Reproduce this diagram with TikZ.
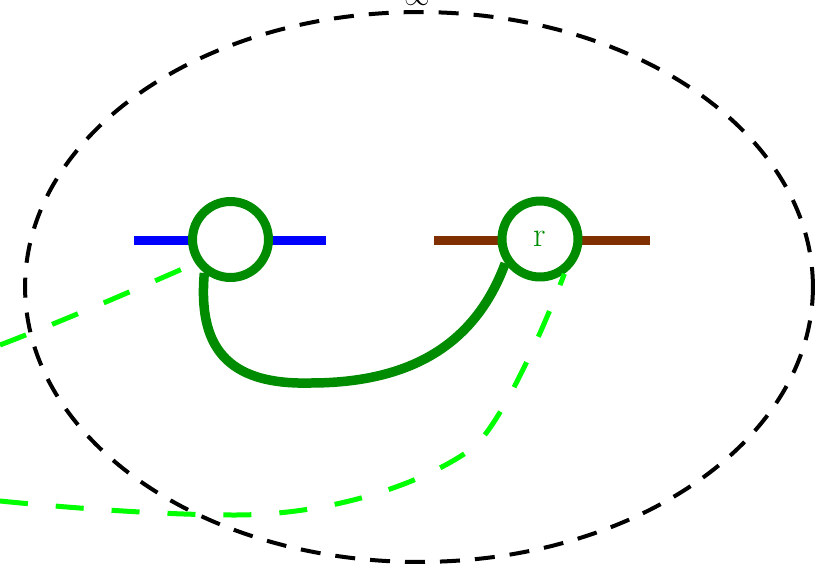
\documentclass[tikz,border=0pt]{standalone}
\definecolor{knotgreen}{RGB}{0,140,0}
\definecolor{ghostgreen}{RGB}{0,255,0}
\definecolor{wirebrown}{RGB}{128,48,0}
\begin{document}
\begin{tikzpicture}[x=0.02cm, y=-0.02cm, line join=round,
  vertex/.style={circle, draw=knotgreen, line width=0.18cm, fill=white,
    minimum size=1.52cm, inner sep=0pt, text=knotgreen,
    font=\fontsize{20}{24}\selectfont},
  wire/.style={line width=0.18cm},
  ghost/.style={draw=ghostgreen, line width=0.1cm, dash pattern=on 0.56cm off 0.56cm},
  boundary/.style={line width=0.08cm, dash pattern=on 0.4cm off 0.3cm}]
  \useasboundingbox (0,0) rectangle (816,569);

  \draw[boundary] (419,287) ellipse [x radius=7.88cm, y radius=5.5cm];
  \node[anchor=base, font=\fontsize{14}{16}\selectfont] (inf) at (417,5) {$\infty$};

  \coordinate (bl) at (134,240);
  \coordinate (br) at (326,240);
  \coordinate (ol) at (434,240);
  \coordinate (or) at (650,240);

  \draw[wire, blue] (bl) -- (br);
  \draw[wire, wirebrown] (ol) -- (or);

  \node[vertex] (u) at (230.5,239.5) {};
  \node[vertex] (v) at (540,239) {r};

  \draw[knotgreen, line width=0.19cm] (u.232) .. controls (198,345) and (225,385) .. (310,383)
    .. controls (410,383) and (475,345) .. (v.215);

  \coordinate (w1) at (0,345);
  \coordinate (w2) at (0,501);

  \draw[ghost] (w1) .. controls (60,322) and (130,292) .. (u.214);
  \draw[ghost] (w2) .. controls (80,509) and (170,515) .. (235,515)
    .. controls (330,515) and (420,485) .. (470,450)
    .. controls (500,429) and (545,325) .. (v.305);
\end{tikzpicture}
\end{document}
